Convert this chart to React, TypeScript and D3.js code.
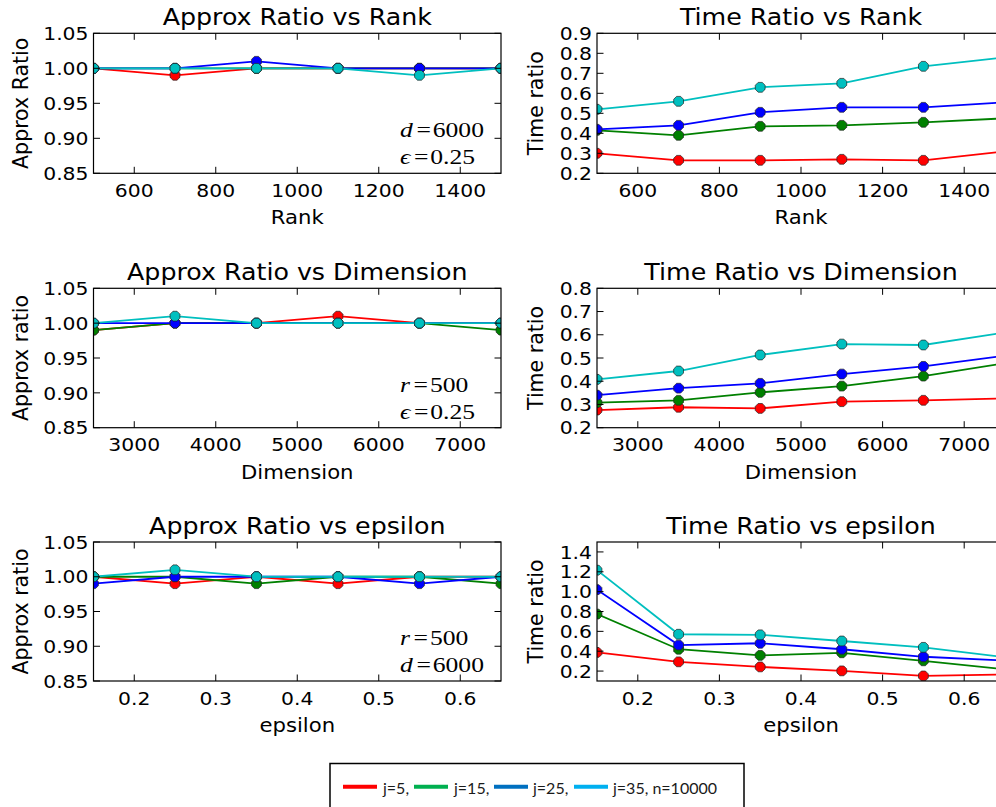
import React from 'react';
import * as d3 from 'd3';

// ---------- data ----------
const rankX = [500, 700, 900, 1100, 1300, 1500];
const dimX = [2500, 3500, 4500, 5500, 6500, 7500];
const epsX = [0.15, 0.25, 0.35, 0.45, 0.55, 0.65];

const seriesNames = ['j=5', 'j=15', 'j=25', 'j=35'];
const lineColors = ['#ff0000', '#008000', '#0000ff', '#00bfbf'];

// rows: j=5, j=15, j=25, j=35
const approxRank = [
  [1.0, 0.99, 1.0, 1.0, 1.0, 1.0],
  [1.0, 1.0, 1.0, 1.0, 1.0, 1.0],
  [1.0, 1.0, 1.01, 1.0, 1.0, 1.0],
  [1.0, 1.0, 1.0, 1.0, 0.99, 1.0],
];
const timeRank = [
  [0.3, 0.265, 0.265, 0.27, 0.265, 0.31],
  [0.415, 0.39, 0.435, 0.44, 0.455, 0.475],
  [0.42, 0.44, 0.505, 0.53, 0.53, 0.555],
  [0.52, 0.56, 0.63, 0.65, 0.735, 0.78],
];
const approxDim = [
  [0.99, 1.0, 1.0, 1.01, 1.0, 1.0],
  [0.99, 1.0, 1.0, 1.0, 1.0, 0.99],
  [1.0, 1.0, 1.0, 1.0, 1.0, 1.0],
  [1.0, 1.01, 1.0, 1.0, 1.0, 1.0],
];
const timeDim = [
  [0.276, 0.288, 0.283, 0.312, 0.318, 0.326],
  [0.308, 0.318, 0.352, 0.379, 0.422, 0.478],
  [0.34, 0.37, 0.391, 0.431, 0.464, 0.51],
  [0.408, 0.444, 0.513, 0.56, 0.556, 0.61],
];
const approxEps = [
  [1.0, 0.99, 1.0, 0.99, 1.0, 1.0],
  [1.0, 1.0, 0.99, 1.0, 1.0, 0.99],
  [0.99, 1.0, 1.0, 1.0, 0.99, 1.0],
  [1.0, 1.01, 1.0, 1.0, 1.0, 1.0],
];
const timeEps = [
  [0.388, 0.293, 0.242, 0.202, 0.151, 0.165],
  [0.774, 0.42, 0.358, 0.384, 0.303, 0.218],
  [1.02, 0.462, 0.48, 0.42, 0.344, 0.306],
  [1.216, 0.571, 0.565, 0.503, 0.439, 0.34],
];

const rankTicks = [600, 800, 1000, 1200, 1400];
const dimTicks = [3000, 4000, 5000, 6000, 7000];
const epsTicks = [0.2, 0.3, 0.4, 0.5, 0.6];
const approxTicks = [0.85, 0.9, 0.95, 1.0, 1.05];
const timeRankTicks = [0.2, 0.3, 0.4, 0.5, 0.6, 0.7, 0.8, 0.9];
const timeDimTicks = [0.2, 0.3, 0.4, 0.5, 0.6, 0.7, 0.8];
const timeEpsTicks = [0.2, 0.4, 0.6, 0.8, 1.0, 1.2, 1.4];

const legendLabels = ['j=5,', 'j=15,', 'j=25,', 'j=35, n=10000'];
const legendColors = ['#ff0000', '#00b050', '#0070c0', '#00b0f0'];

type Note = { v: string; n: string };
type ChartDef = {
  title: string;
  xlabel: string;
  ylabel: string;
  xs: number[];
  ys: number[][];
  xDomain: [number, number];
  xTicks: number[];
  xFmt: string;
  yDomain: [number, number];
  yTicks: number[];
  yFmt: string;
  notes?: Note[];
};

const charts: ChartDef[] = [
  { title: 'Approx Ratio vs Rank', xlabel: 'Rank', ylabel: 'Approx Ratio', xs: rankX, ys: approxRank,
    xDomain: [500, 1500], xTicks: rankTicks, xFmt: 'd', yDomain: [0.85, 1.05], yTicks: approxTicks, yFmt: '.2f',
    notes: [{ v: 'd', n: '6000' }, { v: 'ϵ', n: '0.25' }] },
  { title: 'Time Ratio vs Rank', xlabel: 'Rank', ylabel: 'Time ratio', xs: rankX, ys: timeRank,
    xDomain: [500, 1500], xTicks: rankTicks, xFmt: 'd', yDomain: [0.2, 0.9], yTicks: timeRankTicks, yFmt: '.1f' },
  { title: 'Approx Ratio vs Dimension', xlabel: 'Dimension', ylabel: 'Approx ratio', xs: dimX, ys: approxDim,
    xDomain: [2500, 7500], xTicks: dimTicks, xFmt: 'd', yDomain: [0.85, 1.05], yTicks: approxTicks, yFmt: '.2f',
    notes: [{ v: 'r', n: '500' }, { v: 'ϵ', n: '0.25' }] },
  { title: 'Time Ratio vs Dimension', xlabel: 'Dimension', ylabel: 'Time ratio', xs: dimX, ys: timeDim,
    xDomain: [2500, 7500], xTicks: dimTicks, xFmt: 'd', yDomain: [0.2, 0.8], yTicks: timeDimTicks, yFmt: '.1f' },
  { title: 'Approx Ratio vs epsilon', xlabel: 'epsilon', ylabel: 'Approx ratio', xs: epsX, ys: approxEps,
    xDomain: [0.15, 0.65], xTicks: epsTicks, xFmt: '.1f', yDomain: [0.85, 1.05], yTicks: approxTicks, yFmt: '.2f',
    notes: [{ v: 'r', n: '500' }, { v: 'd', n: '6000' }] },
  { title: 'Time Ratio vs epsilon', xlabel: 'epsilon', ylabel: 'Time ratio', xs: epsX, ys: timeEps,
    xDomain: [0.15, 0.65], xTicks: epsTicks, xFmt: '.1f', yDomain: [0.1, 1.5], yTicks: timeEpsTicks, yFmt: '.1f' },
];

// ---------- layout ----------
const W = 996;
const H = 807;
const colX: [number, number][] = [[93.5, 501], [597, 1005]];
const rowY: [number, number][] = [[33.3, 173.3], [288.3, 427.7], [542, 681]];
const FONT = 'DejaVu Sans, Bitstream Vera Sans, sans-serif';
const MATH = 'Liberation Serif, DejaVu Serif, serif';
const SX = 1.1; // horizontal stretch seen in the reference's text

function octagon(r: number) {
  const pts: string[] = [];
  for (let k = 0; k < 8; k++) {
    const a = Math.PI / 8 + (k * Math.PI) / 4;
    pts.push(`${(r * Math.cos(a)).toFixed(2)},${(r * Math.sin(a)).toFixed(2)}`);
  }
  return 'M' + pts.join('L') + 'Z';
}
const markerPath = octagon(5.3);

function T({ x, y, size, anchor = 'start', dy, sx = SX, family = FONT, children }: any) {
  return (
    <text transform={`translate(${x},${y}) scale(${sx},1)`} textAnchor={anchor} dy={dy}
      fontFamily={family} fontSize={size} fill="#000">{children}</text>
  );
}

function Chart({ def, idx }: { def: ChartDef; idx: number }) {
  const col = idx % 2;
  const row = Math.floor(idx / 2);
  const [x0, x1] = colX[col];
  const [y0, y1] = rowY[row];
  const x = d3.scaleLinear().domain(def.xDomain).range([x0, x1]);
  const y = d3.scaleLinear().domain(def.yDomain).range([y1, y0]);
  const xf = d3.format(def.xFmt);
  const yf = d3.format(def.yFmt);
  const line = d3.line<number>().x((_, i) => x(def.xs[i])).y((v) => y(v));
  const clipId = `clip${idx}`;
  const tick = 6.5;
  const ylabelOff = def.yFmt === '.2f' ? 73 : 61;
  const cx = (x0 + x1) / 2;
  return (
    <g>
      <defs>
        <clipPath id={clipId}>
          <rect x={x0} y={y0} width={x1 - x0} height={y1 - y0} />
        </clipPath>
      </defs>
      <g clipPath={`url(#${clipId})`}>
        {def.ys.map((s, si) => (
          <g key={si}>
            <path d={line(s) || ''} fill="none" stroke={lineColors[si]} strokeWidth={1.8} />
            {s.map((v, i) => (
              <path key={i} d={markerPath} transform={`translate(${x(def.xs[i])},${y(v)})`}
                fill={lineColors[si]} stroke="#222" strokeWidth={0.7} />
            ))}
          </g>
        ))}
      </g>
      {def.xTicks.map((t) => (
        <g key={'xt' + t}>
          <line x1={x(t)} x2={x(t)} y1={y1} y2={y1 - tick} stroke="#000" strokeWidth={1} />
          <line x1={x(t)} x2={x(t)} y1={y0} y2={y0 + tick} stroke="#000" strokeWidth={1} />
          <T x={x(t)} y={y1 + 23.5} size={18.5} anchor="middle">{xf(t)}</T>
        </g>
      ))}
      {def.yTicks.map((t) => (
        <g key={'yt' + t}>
          <line x1={x0} x2={x0 + tick} y1={y(t)} y2={y(t)} stroke="#000" strokeWidth={1} />
          <line x1={x1} x2={x1 - tick} y1={y(t)} y2={y(t)} stroke="#000" strokeWidth={1} />
          <T x={x0 - 5} y={y(t)} dy="0.36em" size={18.5} anchor="end">{yf(t)}</T>
        </g>
      ))}
      <rect x={x0} y={y0} width={x1 - x0} height={y1 - y0} fill="none" stroke="#000" strokeWidth={1.2} />
      <T x={cx} y={y0 - 8} size={23} anchor="middle">{def.title}</T>
      <T x={cx} y={y1 + 51} size={20} anchor="middle" sx={1.06}>{def.xlabel}</T>
      <text transform={`translate(${x0 - ylabelOff},${(y0 + y1) / 2}) rotate(-90)`} dy="0.36em" textAnchor="middle"
        fontFamily={FONT} fontSize={20.5} fill="#000">{def.ylabel}</text>
      {def.notes &&
        def.notes.map((n, k) => (
          <text key={k} transform={`translate(${x1 - 101},${y1 - (k === 0 ? 36 : 9)}) scale(1.22,1)`}
            fontFamily={MATH} fontSize={21} fill="#000">
            <tspan fontStyle="italic">{n.v}</tspan>
            <tspan dx={3}>=</tspan>
            <tspan dx={1.5}>{n.n}</tspan>
          </text>
        ))}
    </g>
  );
}

export default function App() {
  const legendLineX = [343, 414, 494, 574];
  const legendTextX = [383, 454, 533, 613];
  return (
    <div style={{ position: 'absolute', left: 0, top: 0, width: W, height: H, background: '#fff' }}>
      <svg width={W} height={H} viewBox={`0 0 ${W} ${H}`} style={{ display: 'block' }}>
        <rect width={W} height={H} fill="#fff" />
        {charts.map((c, i) => (
          <Chart key={i} def={c} idx={i} />
        ))}
        <g>
          <rect x={330} y={763.5} width={414} height={60} fill="none" stroke="#000" strokeWidth={1.5} />
          {legendLabels.map((l, i) => (
            <g key={l}>
              <line x1={legendLineX[i]} x2={legendLineX[i] + 34} y1={786.7} y2={786.7} stroke={legendColors[i]} strokeWidth={4} />
              <text x={legendTextX[i]} y={794} fontFamily="Lato, Carlito, sans-serif" fontSize={16} fill="#1a1a1a">{l}</text>
            </g>
          ))}
        </g>
      </svg>
    </div>
  );
}
